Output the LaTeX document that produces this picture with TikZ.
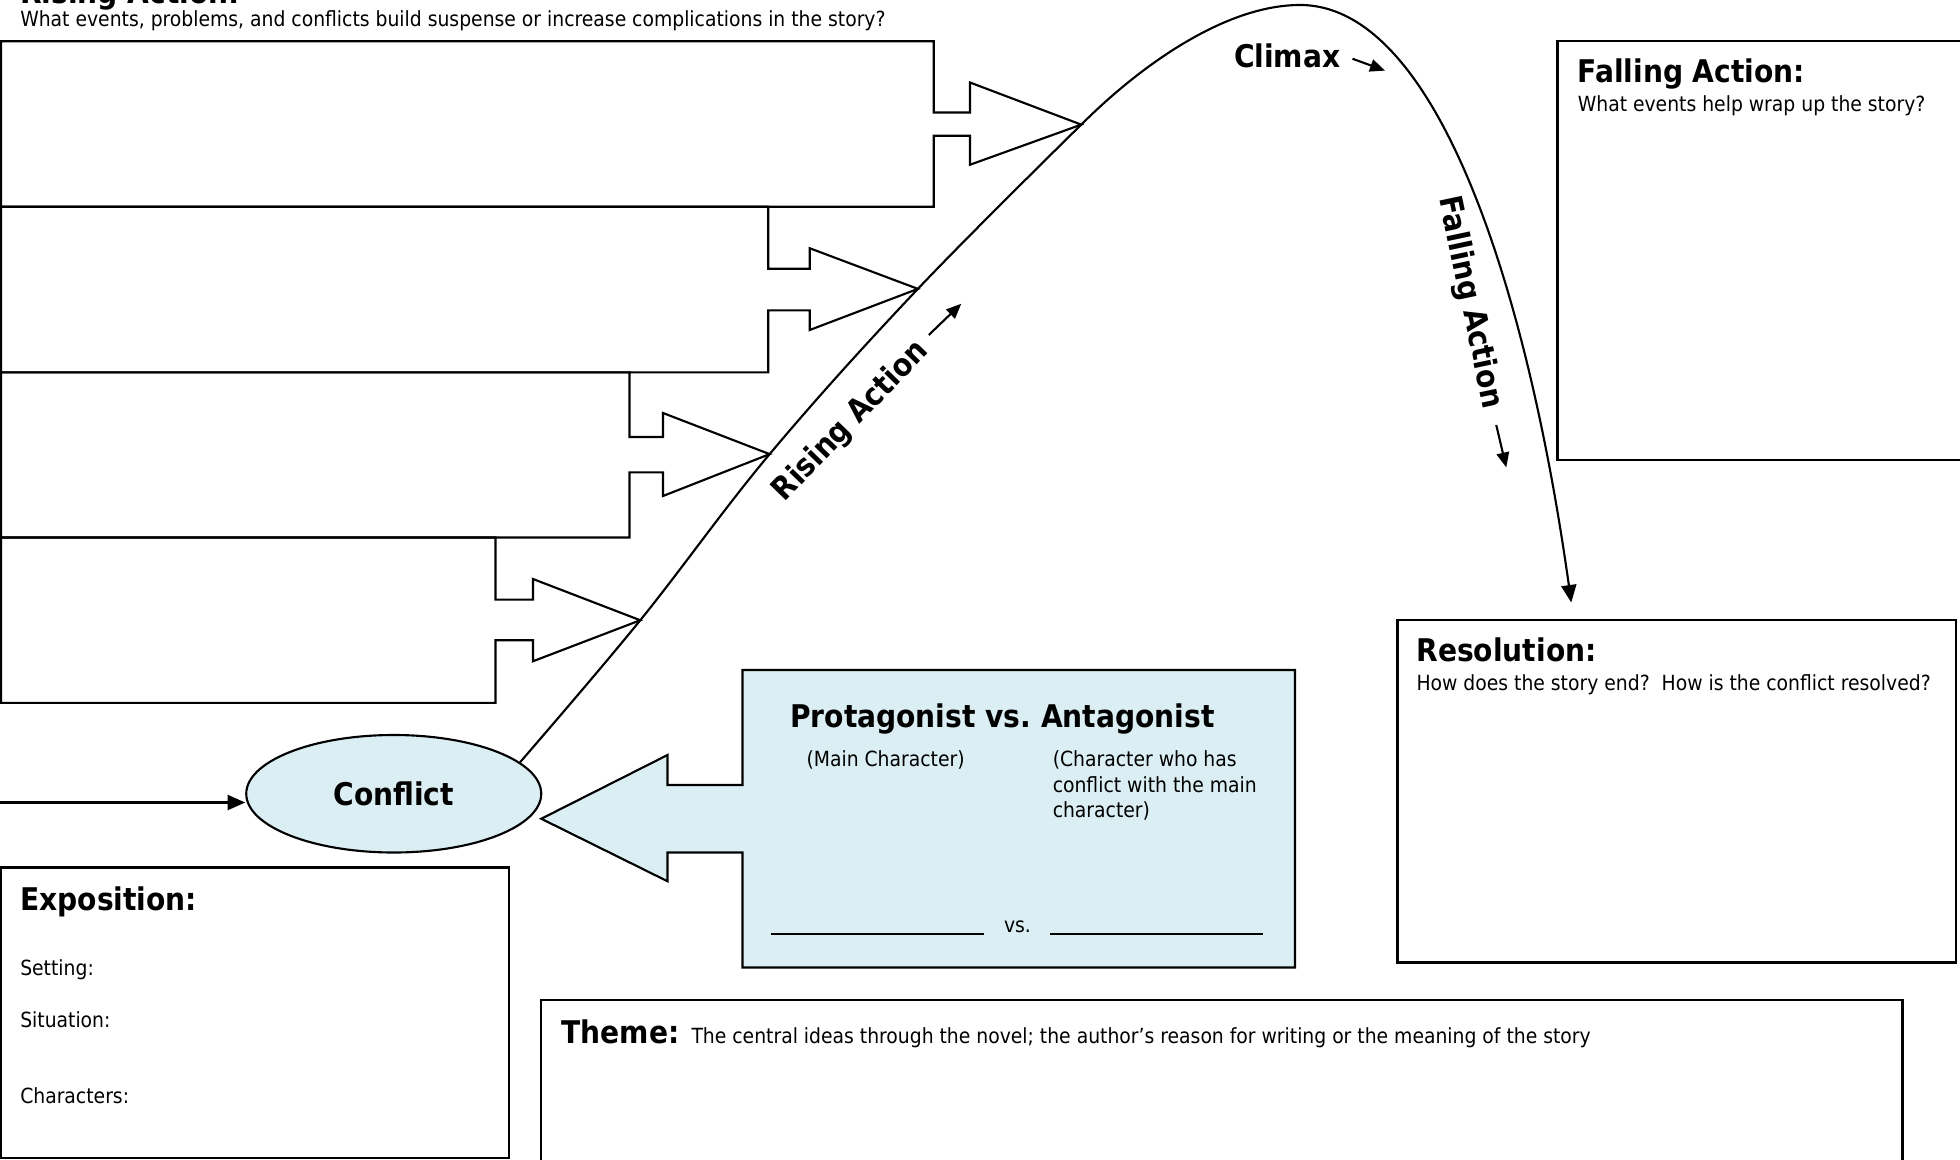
\documentclass[tikz,border=0pt]{standalone}
\usepackage{fontspec}
\setmainfont{DejaVu Sans Condensed}[BoldFont={DejaVu Sans Condensed Bold}]
\usetikzlibrary{arrows.meta,shapes.geometric}
\definecolor{paleblue}{RGB}{218,238,243}
\begin{document}
\begin{tikzpicture}[x=1pt,y=-1pt,
  ln/.style={line width=1.7pt, line join=miter},
  bt/.style={font=\fontsize{25}{30}\selectfont\bfseries, inner sep=0pt, anchor=base west},
  rt/.style={font=\fontsize{16.7}{20.5}\selectfont, inner sep=0pt, anchor=base west},
  bigtip/.style={-{Triangle[length=14pt,width=12pt]}},
  smalltip/.style={-{Triangle[length=12pt,width=10pt]}}]
\useasboundingbox (0,0) rectangle (1568,928);

% rising action boxes with arrows
\draw[ln] (0.8,33) -- (747,33) -- (747,90) -- (776,90) -- (776,66) -- (865,99.7) -- (776,131.8) -- (776,108.6) -- (747,108.6) -- (747,165.4) -- (0.8,165.4) -- cycle;
\draw[ln] (0.8,165.4) -- (614.6,165.4) -- (614.6,215) -- (647.8,215) -- (647.8,198.6) -- (734.3,231.1) -- (647.8,264) -- (647.8,248.3) -- (614.6,248.3) -- (614.6,297.9) -- (0.8,297.9) -- cycle;
\draw[ln] (0.8,297.9) -- (503.6,297.9) -- (503.6,349.6) -- (530.4,349.6) -- (530.4,330.4) -- (615.7,363.3) -- (530.4,396.8) -- (530.4,377.9) -- (503.6,377.9) -- (503.6,430) -- (0.8,430) -- cycle;
\draw[ln] (0.8,430) -- (396.4,430) -- (396.4,479.7) -- (426.4,479.7) -- (426.4,463.2) -- (512.2,496.2) -- (426.4,529) -- (426.4,512.2) -- (396.4,512.2) -- (396.4,562.3) -- (0.8,562.3) -- cycle;

% titles top left
\node[bt] (ratitle) at (16,3) {Rising Action:};
\node[rt] (rasub) at (16,21.5) {What events, problems, and conflicts build suspense or increase complications in the story?};

% falling action box
\draw[ln] (1246,33) rectangle (1580,368);
\node[bt] (fatitle) at (1262,66) {Falling Action:};
\node[rt] (fasub) at (1262,89) {What events help wrap up the story?};

% resolution box
\draw[ln] (1118,496) rectangle (1565,770);
\node[bt] (restitle) at (1133,529) {Resolution:};
\node[rt] (ressub) at (1133,552) {How does the story end?\ \ How is the conflict resolved?};

% exposition box
\draw[ln] (0.8,694) rectangle (407,926.5);
\node[bt] (exptitle) at (16,728) {Exposition:};
\node[rt] (setting) at (16,780) {Setting:};
\node[rt] (situation) at (16,822) {Situation:};
\node[rt] (characters) at (16,883) {Characters:};

% theme box
\draw[ln] (433,800) rectangle (1522,940);
\node[bt] (themetitle) at (449,835) {Theme:};
\node[rt] (themetext) at (553,835) {The central ideas through the novel; the author’s reason for writing or the meaning of the story};

% protagonist box with arrow
\draw[ln, fill=paleblue] (594,536) -- (1036,536) -- (1036,774) -- (594,774) -- (594,682) -- (534,682) -- (534,705) -- (433,655) -- (534,604) -- (534,628) -- (594,628) -- cycle;
\node[bt] (protitle) at (632,582) {Protagonist vs.\ Antagonist};
\node[rt] (mainchar) at (645,613) {(Main Character)};
\node[rt] (ant1) at (842,613) {(Character who has};
\node[rt] (ant2) at (842,634) {conflict with the main};
\node[rt] (ant3) at (842,654) {character)};
\coordinate (bl1) at (617,747); \coordinate (bl2) at (787,747);
\coordinate (bl3) at (840,747); \coordinate (bl4) at (1010,747);
\draw[ln] (bl1) -- (bl2);
\draw[ln] (bl3) -- (bl4);
\node[rt] (vs) at (803,746) {vs.};

% conflict ellipse
\node[ellipse, draw, ln, fill=paleblue, minimum width=236pt, minimum height=94pt, inner sep=0pt,
      font=\fontsize{25}{30}\selectfont\bfseries] (conf) at (315,635) {Conflict};
\coordinate (entry) at (0,642);
\draw[ln, bigtip] (entry) -- (entry -| conf.west);

% plot line
\coordinate (c0) at (conf.14);
\coordinate (peak) at (1040,4);
\coordinate (cend) at (1257,482);
\draw[ln, bigtip] plot[smooth, tension=0.6] coordinates {(c0) (512.2,496.2) (615.7,363.3) (734.3,231.1) (865,99.7)}
   .. controls (912,52.7) and (980,4) .. (peak)
   .. controls (1150,4) and (1222,232) .. (cend);

% labels on the curve
\node[bt, anchor=base west] (climax) at (987,54) {Climax};
\coordinate (cla) at (1082,47); \coordinate (clb) at (1108,56.5);
\draw[ln, smalltip] (cla) -- (clb);

\node[font=\fontsize{25}{30}\selectfont\bfseries, inner sep=0pt, rotate=46] (ralabel) at (681,337) {Rising Action};
\coordinate (raa) at (743,268); \coordinate (rab) at (769,243);
\draw[ln, smalltip] (raa) -- (rab);

\node[font=\fontsize{25}{30}\selectfont\bfseries, inner sep=0pt, rotate=-78] (falabel) at (1176,242) {Falling Action};
\coordinate (faa) at (1197,340); \coordinate (fab) at (1205,374);
\draw[ln, smalltip] (faa) -- (fab);
\end{tikzpicture}
\end{document}
